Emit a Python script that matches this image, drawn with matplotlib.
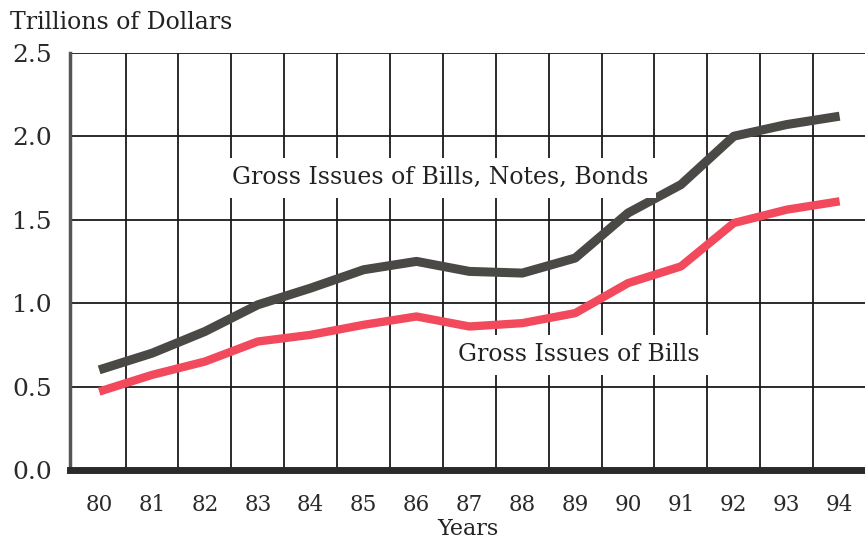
import matplotlib.pyplot as plt
import numpy as np

years = np.arange(80, 95)
year_labels = [str(y) for y in years]
total_issues = [0.60, 0.70, 0.83, 0.99, 1.09, 1.20, 1.25, 1.19, 1.18, 1.27,
                1.54, 1.71, 2.00, 2.07, 2.12]
bill_issues = [0.47, 0.57, 0.65, 0.77, 0.81, 0.87, 0.92, 0.86, 0.88, 0.94,
               1.12, 1.22, 1.48, 1.56, 1.61]
y_ticks = [0.0, 0.5, 1.0, 1.5, 2.0, 2.5]

plt.rcParams['font.family'] = ['DejaVu Serif']

fig = plt.figure(figsize=(8.65, 5.44), dpi=100)
ax = fig.add_axes([0.081, 0.136, 0.919, 0.767])

ax.plot(years, total_issues, color='#4b4946', lw=6.5, solid_capstyle='butt', zorder=3)
ax.plot(years, bill_issues, color='#f2495c', lw=6, solid_capstyle='butt', zorder=3)

ax.set_xlim(79.45, 94.48)
ax.set_ylim(0, 2.5)
ax.set_xticks(years)
ax.set_xticklabels(year_labels)
ax.set_xticks(years[:-1] + 0.5, minor=True)
ax.set_yticks(y_ticks)
ax.set_yticklabels([f"{v:.1f}" for v in y_ticks])
ax.tick_params(axis='both', which='both', length=0, colors='#2a2a2a')
ax.tick_params(axis='x', labelsize=15.5, pad=17)
ax.tick_params(axis='y', labelsize=18, pad=13)

ax.grid(which='minor', axis='x', color='#1a1a1a', lw=1.3, zorder=1)
ax.grid(which='major', axis='y', color='#1a1a1a', lw=1.3, zorder=1)
ax.grid(which='major', axis='x', visible=False)

for s in ['top', 'right']:
    ax.spines[s].set_visible(False)
ax.spines['left'].set_color('#555555')
ax.spines['left'].set_linewidth(2.5)
ax.spines['bottom'].set_color('#2a2a2a')
ax.spines['bottom'].set_linewidth(5)

ax.text(86.44, 1.75, "Gross Issues of Bills, Notes, Bonds", fontsize=17,
        ha='center', va='center', color='#222222', zorder=4,
        bbox=dict(facecolor='white', edgecolor='none', pad=6))
ax.text(89.07, 0.69, "Gross Issues of Bills", fontsize=17,
        ha='center', va='center', color='#222222', zorder=4,
        bbox=dict(facecolor='white', edgecolor='none', pad=6))

fig.text(0.012, 0.958, "Trillions of Dollars", fontsize=17, color='#222222', va='center')
ax.set_xlabel("Years", fontsize=16, color='#222222', labelpad=2)

fig.savefig("out.png", dpi=100)
